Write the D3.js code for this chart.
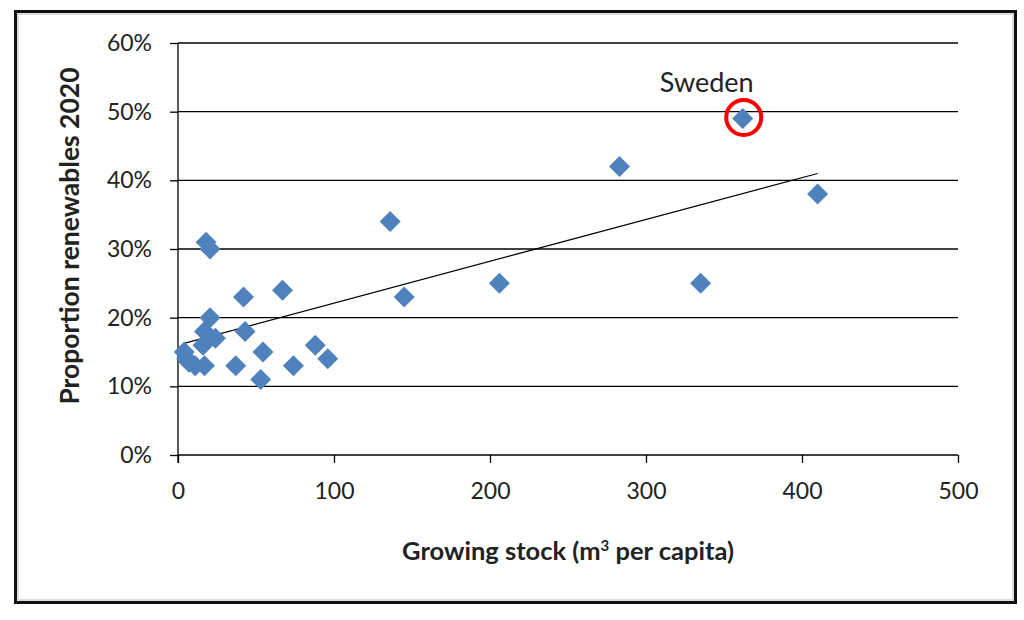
<!DOCTYPE html>
<html>
<head>
<meta charset="utf-8">
<script src="https://cdn.jsdelivr.net/npm/d3@7"></script>
<style>
  body { margin: 0; background: #fff; }
  svg { display: block; }
</style>
</head>
<body>
<div id="chart"></div>
<script>
// Growing stock (m3 per capita) vs share of renewables 2020
const growingStock = [362, 410, 283, 335, 206, 145, 136, 96, 88, 74, 67, 54.5, 53, 43, 42, 37,
  18, 20.5, 20.5, 17, 24, 16, 17, 5.5, 4, 11, 7];
const renewables = [0.49, 0.38, 0.42, 0.25, 0.25, 0.23, 0.34, 0.14, 0.16, 0.13, 0.24, 0.15, 0.11, 0.18, 0.23, 0.13,
  0.31, 0.30, 0.20, 0.18, 0.17, 0.16, 0.13, 0.14, 0.15, 0.13, 0.135];
const highlight = { name: 'Sweden', x: 362, y: 0.49 };
const trendX = [4.5, 410];
const trendY = [0.163, 0.41];
const xTicks = [0, 100, 200, 300, 400, 500];
const yTicks = [0, 0.1, 0.2, 0.3, 0.4, 0.5, 0.6];

const W = 1024, H = 620;
const plot = { left: 178, right: 958, top: 43, bottom: 455 };
const font = 'Lato, "Open Sans", sans-serif';

const svg = d3.select('#chart').append('svg')
  .attr('width', W).attr('height', H);

// outer frame
svg.append('rect').attr('x', 15.5).attr('y', 11.5).attr('width', 1000).attr('height', 591)
  .attr('fill', '#fff').attr('stroke', '#111').attr('stroke-width', 3);
svg.append('rect').attr('x', 18).attr('y', 14).attr('width', 995).attr('height', 586)
  .attr('fill', 'none').attr('stroke', '#bbb').attr('stroke-width', 1);

const x = d3.scaleLinear().domain([0, 500]).range([plot.left, plot.right]);
const y = d3.scaleLinear().domain([0, 0.6]).range([plot.bottom, plot.top]);

// y axis with gridlines
const yAxis = svg.append('g')
  .attr('transform', `translate(${plot.left},0)`)
  .call(d3.axisLeft(y).tickValues(yTicks).tickFormat(d3.format('.0%'))
    .tickSize(8).tickPadding(18));
yAxis.select('.domain').remove();
yAxis.selectAll('.tick line').attr('stroke', '#000').attr('stroke-width', 1.3);
yAxis.selectAll('.tick text').attr('font-family', font).attr('font-size', 23).attr('fill', '#222');

svg.append('g').selectAll('line').data(yTicks).join('line')
  .attr('x1', plot.left).attr('x2', plot.right)
  .attr('y1', d => y(d)).attr('y2', d => y(d))
  .attr('stroke', '#000').attr('stroke-width', 1.3);

svg.append('line')
  .attr('x1', plot.left).attr('x2', plot.left)
  .attr('y1', plot.top).attr('y2', plot.bottom + 8)
  .attr('stroke', '#000').attr('stroke-width', 1.3);

// x axis
const xAxis = svg.append('g')
  .attr('transform', `translate(0,${plot.bottom})`)
  .call(d3.axisBottom(x).tickValues(xTicks).tickSize(8).tickPadding(20));
xAxis.select('.domain').remove();
xAxis.selectAll('.tick line').attr('stroke', '#000').attr('stroke-width', 1.3);
xAxis.selectAll('.tick text').attr('font-family', font).attr('font-size', 23).attr('fill', '#222');

// axis titles
svg.append('text')
  .attr('x', (401 + 735) / 2).attr('y', 560)
  .attr('text-anchor', 'middle')
  .attr('font-family', font).attr('font-size', 25.5).attr('font-weight', 'bold').attr('fill', '#222')
  .html('Growing stock (m<tspan baseline-shift="super" font-size="15">3</tspan> per capita)');

svg.append('text')
  .attr('transform', `translate(79,${(60 + 412) / 2}) rotate(-90)`)
  .attr('text-anchor', 'middle')
  .attr('font-family', font).attr('font-size', 26.5).attr('font-weight', 'bold').attr('fill', '#222')
  .text('Proportion renewables 2020');

// trendline
svg.append('line')
  .attr('x1', x(trendX[0])).attr('y1', y(trendY[0]))
  .attr('x2', x(trendX[1])).attr('y2', y(trendY[1]))
  .attr('stroke', '#000').attr('stroke-width', 1.2);

// diamonds
const pts = growingStock.map((g, i) => ({ x: g, y: renewables[i] }));
svg.append('g').selectAll('path').data(pts).join('path')
  .attr('d', 'M0,-10.5L10.5,0L0,10.5L-10.5,0Z')
  .attr('transform', d => `translate(${x(d.x)},${y(d.y)})`)
  .attr('fill', '#4F81BD');

// Sweden annotation
svg.append('circle')
  .attr('cx', x(highlight.x) + 1).attr('cy', y(highlight.y) - 1).attr('r', 17.5)
  .attr('fill', 'none').attr('stroke', '#FF0000').attr('stroke-width', 4);
svg.append('text')
  .attr('x', x(highlight.x) - 36).attr('y', 92)
  .attr('text-anchor', 'middle')
  .attr('font-family', font).attr('font-size', 27).attr('fill', '#222')
  .text(highlight.name);
</script>
</body>
</html>
